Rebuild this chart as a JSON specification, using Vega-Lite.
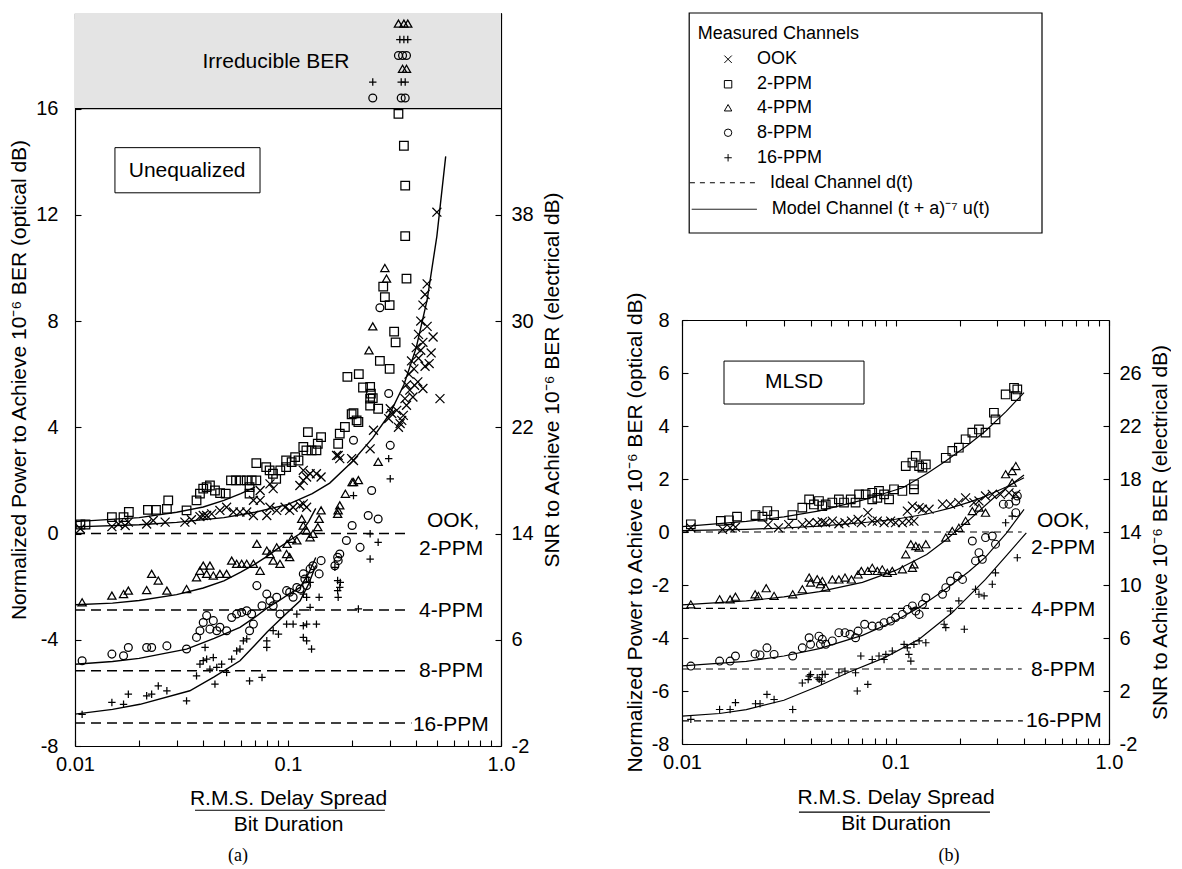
{
"$schema":"https://vega.github.io/schema/vega-lite/v6.json",
"padding":{"left":8,"top":12,"right":0,"bottom":0},
"config":{"view":{"stroke":null},"font":"Liberation Sans",
"axis":{"domainColor":"black","tickColor":"black","labelColor":"black","titleColor":"black","grid":false,"labelFontSize":20,"titleFontSize":21,"titleFontWeight":"normal","tickSize":-6,"domainWidth":1.2,"tickWidth":1.1,"zindex":1,"labelFont":"Liberation Sans","titleFont":"Liberation Sans"},
"text":{"font":"Liberation Sans","color":"black"}},
"datasets":{
"aIdeal":[{"x":0.01,"x2":0.37,"y":0},{"x":0.01,"x2":0.37,"y":-2.88},{"x":0.01,"x2":0.37,"y":-5.17},{"x":0.01,"x2":0.38,"y":-7.13}],
"bIdeal":[{"x":0.01,"x2":0.39,"y":0},{"x":0.01,"x2":0.39,"y":-2.88},{"x":0.01,"x2":0.39,"y":-5.17},{"x":0.01,"x2":0.395,"y":-7.13}],
"aLab":[{"t":"OOK,","x":0.449,"y":0.49},{"t":"2-PPM","x":0.412,"y":-0.57},{"t":"4-PPM","x":0.412,"y":-2.9},{"t":"8-PPM","x":0.412,"y":-5.17},{"t":"16-PPM","x":0.386,"y":-7.2}],
"bLab":[{"t":"OOK,","x":0.46,"y":0.42},{"t":"2-PPM","x":0.431,"y":-0.6},{"t":"4-PPM","x":0.431,"y":-2.94},{"t":"8-PPM","x":0.431,"y":-5.2},{"t":"16-PPM","x":0.408,"y":-7.15}],
"aCurve":[
{"s":"OOK","x":0.01,"y":0.25},{"s":"OOK","x":0.02,"y":0.33},{"s":"OOK","x":0.03,"y":0.42},{"s":"OOK","x":0.05,"y":0.6},{"s":"OOK","x":0.07,"y":0.8},{"s":"OOK","x":0.1,"y":1.1},{"s":"OOK","x":0.13,"y":1.5},{"s":"OOK","x":0.157,"y":1.9},{"s":"OOK","x":0.2,"y":2.7},{"s":"OOK","x":0.25,"y":3.6},{"s":"OOK","x":0.3,"y":4.5},{"s":"OOK","x":0.35,"y":5.6},{"s":"OOK","x":0.4,"y":7.0},{"s":"OOK","x":0.45,"y":8.8},{"s":"OOK","x":0.5,"y":11.2},{"s":"OOK","x":0.55,"y":14.2},
{"s":"2-PPM","x":0.01,"y":0.45},{"s":"2-PPM","x":0.02,"y":0.6},{"s":"2-PPM","x":0.03,"y":0.8},{"s":"2-PPM","x":0.04,"y":1.0},{"s":"2-PPM","x":0.05,"y":1.25},{"s":"2-PPM","x":0.06,"y":1.5},{"s":"2-PPM","x":0.07,"y":1.75},
{"s":"4-PPM","x":0.01,"y":-2.68},{"s":"4-PPM","x":0.015,"y":-2.62},{"s":"4-PPM","x":0.02,"y":-2.52},{"s":"4-PPM","x":0.03,"y":-2.3},{"s":"4-PPM","x":0.04,"y":-2.05},{"s":"4-PPM","x":0.05,"y":-1.78},{"s":"4-PPM","x":0.06,"y":-1.45},{"s":"4-PPM","x":0.07,"y":-1.15},{"s":"4-PPM","x":0.08,"y":-0.85},{"s":"4-PPM","x":0.09,"y":-0.55},{"s":"4-PPM","x":0.1,"y":-0.3},{"s":"4-PPM","x":0.114,"y":0.0},{"s":"4-PPM","x":0.125,"y":0.45},{"s":"4-PPM","x":0.135,"y":0.95},
{"s":"8-PPM","x":0.01,"y":-4.92},{"s":"8-PPM","x":0.015,"y":-4.82},{"s":"8-PPM","x":0.02,"y":-4.7},{"s":"8-PPM","x":0.0334,"y":-4.35},{"s":"8-PPM","x":0.045,"y":-3.95},{"s":"8-PPM","x":0.0595,"y":-3.53},{"s":"8-PPM","x":0.07,"y":-3.15},{"s":"8-PPM","x":0.08,"y":-2.8},{"s":"8-PPM","x":0.09,"y":-2.55},{"s":"8-PPM","x":0.1,"y":-2.3},{"s":"8-PPM","x":0.114,"y":-2.03},{"s":"8-PPM","x":0.125,"y":-1.5},{"s":"8-PPM","x":0.135,"y":-0.9},
{"s":"16-PPM","x":0.01,"y":-6.8},{"s":"16-PPM","x":0.015,"y":-6.62},{"s":"16-PPM","x":0.0202,"y":-6.43},{"s":"16-PPM","x":0.0346,"y":-5.92},{"s":"16-PPM","x":0.045,"y":-5.4},{"s":"16-PPM","x":0.0595,"y":-4.79},{"s":"16-PPM","x":0.07,"y":-4.2},{"s":"16-PPM","x":0.08,"y":-3.7},{"s":"16-PPM","x":0.09,"y":-3.3},{"s":"16-PPM","x":0.1,"y":-2.95},{"s":"16-PPM","x":0.114,"y":-2.53},{"s":"16-PPM","x":0.125,"y":-1.9},{"s":"16-PPM","x":0.135,"y":-1.2}],
"bCurve":[
{"s":"2-PPM","x":0.01,"y":0.2},{"s":"2-PPM","x":0.02,"y":0.4},{"s":"2-PPM","x":0.03,"y":0.57},{"s":"2-PPM","x":0.044,"y":0.8},{"s":"2-PPM","x":0.07,"y":1.2},{"s":"2-PPM","x":0.108,"y":1.67},{"s":"2-PPM","x":0.14,"y":2.2},{"s":"2-PPM","x":0.172,"y":2.68},{"s":"2-PPM","x":0.22,"y":3.3},{"s":"2-PPM","x":0.264,"y":3.81},{"s":"2-PPM","x":0.33,"y":4.55},{"s":"2-PPM","x":0.4,"y":5.26},
{"s":"OOK","x":0.01,"y":0.05},{"s":"OOK","x":0.02,"y":0.1},{"s":"OOK","x":0.03,"y":0.15},{"s":"OOK","x":0.044,"y":0.22},{"s":"OOK","x":0.07,"y":0.35},{"s":"OOK","x":0.1,"y":0.48},{"s":"OOK","x":0.14,"y":0.68},{"s":"OOK","x":0.18,"y":0.9},{"s":"OOK","x":0.22,"y":1.12},{"s":"OOK","x":0.264,"y":1.35},{"s":"OOK","x":0.33,"y":1.7},{"s":"OOK","x":0.4,"y":2.05},
{"s":"4-PPM","x":0.01,"y":-2.75},{"s":"4-PPM","x":0.02,"y":-2.6},{"s":"4-PPM","x":0.03,"y":-2.45},{"s":"4-PPM","x":0.044,"y":-2.25},{"s":"4-PPM","x":0.07,"y":-1.9},{"s":"4-PPM","x":0.1,"y":-1.45},{"s":"4-PPM","x":0.14,"y":-0.85},{"s":"4-PPM","x":0.172,"y":-0.3},{"s":"4-PPM","x":0.221,"y":0.45},{"s":"4-PPM","x":0.294,"y":1.35},{"s":"4-PPM","x":0.4,"y":2.15},
{"s":"8-PPM","x":0.01,"y":-5.05},{"s":"8-PPM","x":0.02,"y":-4.88},{"s":"8-PPM","x":0.03,"y":-4.68},{"s":"8-PPM","x":0.044,"y":-4.4},{"s":"8-PPM","x":0.07,"y":-3.9},{"s":"8-PPM","x":0.1,"y":-3.35},{"s":"8-PPM","x":0.129,"y":-2.85},{"s":"8-PPM","x":0.172,"y":-2.15},{"s":"8-PPM","x":0.22,"y":-1.5},{"s":"8-PPM","x":0.264,"y":-0.95},{"s":"8-PPM","x":0.33,"y":-0.05},{"s":"8-PPM","x":0.4,"y":0.85},
{"s":"16-PPM","x":0.01,"y":-6.95},{"s":"16-PPM","x":0.015,"y":-6.85},{"s":"16-PPM","x":0.02,"y":-6.7},{"s":"16-PPM","x":0.03,"y":-6.35},{"s":"16-PPM","x":0.044,"y":-5.8},{"s":"16-PPM","x":0.06,"y":-5.3},{"s":"16-PPM","x":0.089,"y":-4.74},{"s":"16-PPM","x":0.129,"y":-4.05},{"s":"16-PPM","x":0.184,"y":-3.05},{"s":"16-PPM","x":0.264,"y":-1.79},{"s":"16-PPM","x":0.33,"y":-0.9},{"s":"16-PPM","x":0.41,"y":-0.03}],
"aPts":[
{"s":"OOK","x":0.0106,"y":0.18},{"s":"OOK","x":0.0149,"y":0.26},{"s":"OOK","x":0.016,"y":0.36},{"s":"OOK","x":0.0172,"y":0.3},{"s":"OOK","x":0.0178,"y":0.43},{"s":"OOK","x":0.0217,"y":0.36},{"s":"OOK","x":0.0233,"y":0.49},{"s":"OOK","x":0.0265,"y":0.43},{"s":"OOK","x":0.0328,"y":0.43},{"s":"OOK","x":0.0352,"y":0.52},{"s":"OOK","x":0.0386,"y":0.64},{"s":"OOK","x":0.04,"y":0.68},{"s":"OOK","x":0.0415,"y":0.68},{"s":"OOK","x":0.0438,"y":0.74},{"s":"OOK","x":0.0479,"y":0.87},{"s":"OOK","x":0.0515,"y":0.99},{"s":"OOK","x":0.0554,"y":0.81},{"s":"OOK","x":0.0595,"y":0.81},{"s":"OOK","x":0.064,"y":0.81},{"s":"OOK","x":0.0688,"y":0.68},{"s":"OOK","x":0.074,"y":1.25},{"s":"OOK","x":0.0795,"y":0.68},{"s":"OOK","x":0.0823,"y":0.99},{"s":"OOK","x":0.0885,"y":0.87},{"s":"OOK","x":0.0969,"y":0.99},{"s":"OOK","x":0.1018,"y":0.87},{"s":"OOK","x":0.1057,"y":0.99},{"s":"OOK","x":0.1137,"y":1.06},{"s":"OOK","x":0.118,"y":1.12},{"s":"OOK","x":0.1223,"y":0.99},{"s":"OOK","x":0.0688,"y":1.25},{"s":"OOK","x":0.074,"y":1.62},{"s":"OOK","x":0.0823,"y":1.87},{"s":"OOK","x":0.0852,"y":1.69},{"s":"OOK","x":0.1137,"y":1.81},{"s":"OOK","x":0.118,"y":2.0},{"s":"OOK","x":0.1223,"y":2.13},{"s":"OOK","x":0.118,"y":2.38},{"s":"OOK","x":0.127,"y":2.25},{"s":"OOK","x":0.136,"y":2.25},{"s":"OOK","x":0.143,"y":2.13},{"s":"OOK","x":0.169,"y":2.94},{"s":"OOK","x":0.175,"y":2.82},{"s":"OOK","x":0.199,"y":2.82},{"s":"OOK","x":0.172,"y":2.94},{"s":"OOK","x":0.203,"y":2.75},{"s":"OOK","x":0.243,"y":3.19},{"s":"OOK","x":0.252,"y":3.89},{"s":"OOK","x":0.297,"y":4.33},{"s":"OOK","x":0.302,"y":4.7},{"s":"OOK","x":0.307,"y":4.52},{"s":"OOK","x":0.324,"y":4.64},{"s":"OOK","x":0.33,"y":4.0},{"s":"OOK","x":0.342,"y":4.26},{"s":"OOK","x":0.354,"y":5.08},{"s":"OOK","x":0.36,"y":4.83},{"s":"OOK","x":0.373,"y":5.4},{"s":"OOK","x":0.386,"y":5.14},{"s":"OOK","x":0.393,"y":5.58},{"s":"OOK","x":0.407,"y":5.71},{"s":"OOK","x":0.43,"y":5.46},{"s":"OOK","x":0.336,"y":4.14},{"s":"OOK","x":0.348,"y":4.45},{"s":"OOK","x":0.517,"y":5.08},{"s":"OOK","x":0.37,"y":6.0},{"s":"OOK","x":0.38,"y":6.5},{"s":"OOK","x":0.4,"y":7.0},{"s":"OOK","x":0.41,"y":7.5},{"s":"OOK","x":0.42,"y":8.0},{"s":"OOK","x":0.43,"y":8.6},{"s":"OOK","x":0.44,"y":9.0},{"s":"OOK","x":0.45,"y":9.4},{"s":"OOK","x":0.43,"y":7.2},{"s":"OOK","x":0.45,"y":7.8},{"s":"OOK","x":0.47,"y":6.8},{"s":"OOK","x":0.48,"y":7.4},{"s":"OOK","x":0.44,"y":6.3},{"s":"OOK","x":0.39,"y":6.2},{"s":"OOK","x":0.41,"y":6.6},{"s":"OOK","x":0.46,"y":6.4},{"s":"OOK","x":0.5,"y":12.1},{"s":"OOK","x":0.42,"y":6.9},{"s":"OOK","x":0.36,"y":5.6},
{"s":"2-PPM","x":0.0106,"y":0.34},{"s":"2-PPM","x":0.0112,"y":0.34},{"s":"2-PPM","x":0.0149,"y":0.62},{"s":"2-PPM","x":0.0169,"y":0.62},{"s":"2-PPM","x":0.0179,"y":0.81},{"s":"2-PPM","x":0.022,"y":0.89},{"s":"2-PPM","x":0.024,"y":0.89},{"s":"2-PPM","x":0.027,"y":0.93},{"s":"2-PPM","x":0.0274,"y":1.25},{"s":"2-PPM","x":0.0334,"y":0.87},{"s":"2-PPM","x":0.0372,"y":1.25},{"s":"2-PPM","x":0.0386,"y":1.5},{"s":"2-PPM","x":0.04,"y":1.69},{"s":"2-PPM","x":0.0415,"y":1.75},{"s":"2-PPM","x":0.043,"y":1.81},{"s":"2-PPM","x":0.0454,"y":1.62},{"s":"2-PPM","x":0.048,"y":1.52},{"s":"2-PPM","x":0.051,"y":1.5},{"s":"2-PPM","x":0.054,"y":2.0},{"s":"2-PPM","x":0.057,"y":2.0},{"s":"2-PPM","x":0.06,"y":2.0},{"s":"2-PPM","x":0.064,"y":2.0},{"s":"2-PPM","x":0.0675,"y":2.0},{"s":"2-PPM","x":0.071,"y":2.0},{"s":"2-PPM","x":0.066,"y":1.75},{"s":"2-PPM","x":0.066,"y":1.5},{"s":"2-PPM","x":0.071,"y":2.65},{"s":"2-PPM","x":0.079,"y":2.5},{"s":"2-PPM","x":0.082,"y":2.38},{"s":"2-PPM","x":0.085,"y":2.25},{"s":"2-PPM","x":0.088,"y":2.06},{"s":"2-PPM","x":0.092,"y":2.38},{"s":"2-PPM","x":0.098,"y":2.5},{"s":"2-PPM","x":0.098,"y":2.75},{"s":"2-PPM","x":0.104,"y":2.69},{"s":"2-PPM","x":0.108,"y":2.88},{"s":"2-PPM","x":0.112,"y":2.75},{"s":"2-PPM","x":0.118,"y":3.26},{"s":"2-PPM","x":0.122,"y":3.13},{"s":"2-PPM","x":0.129,"y":3.13},{"s":"2-PPM","x":0.136,"y":3.13},{"s":"2-PPM","x":0.138,"y":3.38},{"s":"2-PPM","x":0.143,"y":3.63},{"s":"2-PPM","x":0.124,"y":3.82},{"s":"2-PPM","x":0.172,"y":3.38},{"s":"2-PPM","x":0.175,"y":3.76},{"s":"2-PPM","x":0.185,"y":4.01},{"s":"2-PPM","x":0.199,"y":4.49},{"s":"2-PPM","x":0.21,"y":4.26},{"s":"2-PPM","x":0.243,"y":5.52},{"s":"2-PPM","x":0.245,"y":5.27},{"s":"2-PPM","x":0.243,"y":5.08},{"s":"2-PPM","x":0.243,"y":4.82},{"s":"2-PPM","x":0.265,"y":4.7},{"s":"2-PPM","x":0.203,"y":4.53},{"s":"2-PPM","x":0.214,"y":4.2},{"s":"2-PPM","x":0.19,"y":5.9},{"s":"2-PPM","x":0.215,"y":6.0},{"s":"2-PPM","x":0.225,"y":5.5},{"s":"2-PPM","x":0.25,"y":5.1},{"s":"2-PPM","x":0.28,"y":9.3},{"s":"2-PPM","x":0.285,"y":8.9},{"s":"2-PPM","x":0.3,"y":8.6},{"s":"2-PPM","x":0.315,"y":7.6},{"s":"2-PPM","x":0.32,"y":7.2},{"s":"2-PPM","x":0.33,"y":15.8},{"s":"2-PPM","x":0.35,"y":14.6},{"s":"2-PPM","x":0.355,"y":13.1},{"s":"2-PPM","x":0.355,"y":11.2},{"s":"2-PPM","x":0.36,"y":9.6},{"s":"2-PPM","x":0.27,"y":6.5},{"s":"2-PPM","x":0.3,"y":6.2},
{"s":"4-PPM","x":0.0108,"y":-2.59},{"s":"4-PPM","x":0.0149,"y":-2.34},{"s":"4-PPM","x":0.0169,"y":-2.28},{"s":"4-PPM","x":0.0178,"y":-2.15},{"s":"4-PPM","x":0.0217,"y":-2.13},{"s":"4-PPM","x":0.0229,"y":-1.52},{"s":"4-PPM","x":0.0246,"y":-1.77},{"s":"4-PPM","x":0.027,"y":-2.15},{"s":"4-PPM","x":0.0334,"y":-2.09},{"s":"4-PPM","x":0.0372,"y":-1.65},{"s":"4-PPM","x":0.0386,"y":-1.4},{"s":"4-PPM","x":0.04,"y":-1.21},{"s":"4-PPM","x":0.043,"y":-1.21},{"s":"4-PPM","x":0.0415,"y":-1.52},{"s":"4-PPM","x":0.0446,"y":-1.58},{"s":"4-PPM","x":0.0479,"y":-1.52},{"s":"4-PPM","x":0.0515,"y":-1.52},{"s":"4-PPM","x":0.0544,"y":-1.02},{"s":"4-PPM","x":0.0574,"y":-1.14},{"s":"4-PPM","x":0.0606,"y":-1.14},{"s":"4-PPM","x":0.064,"y":-1.14},{"s":"4-PPM","x":0.0688,"y":-1.14},{"s":"4-PPM","x":0.0714,"y":-0.39},{"s":"4-PPM","x":0.074,"y":-1.4},{"s":"4-PPM","x":0.0795,"y":-0.64},{"s":"4-PPM","x":0.0823,"y":-0.77},{"s":"4-PPM","x":0.0852,"y":-1.02},{"s":"4-PPM","x":0.0885,"y":-0.52},{"s":"4-PPM","x":0.0917,"y":-1.14},{"s":"4-PPM","x":0.0985,"y":-0.77},{"s":"4-PPM","x":0.1018,"y":-0.89},{"s":"4-PPM","x":0.099,"y":-0.39},{"s":"4-PPM","x":0.104,"y":-0.2},{"s":"4-PPM","x":0.11,"y":-0.26},{"s":"4-PPM","x":0.116,"y":0.55},{"s":"4-PPM","x":0.118,"y":0.3},{"s":"4-PPM","x":0.1223,"y":0.11},{"s":"4-PPM","x":0.127,"y":-0.14},{"s":"4-PPM","x":0.131,"y":-0.01},{"s":"4-PPM","x":0.143,"y":0.87},{"s":"4-PPM","x":0.14,"y":0.55},{"s":"4-PPM","x":0.138,"y":0.24},{"s":"4-PPM","x":0.172,"y":0.87},{"s":"4-PPM","x":0.175,"y":1.06},{"s":"4-PPM","x":0.2,"y":1.94},{"s":"4-PPM","x":0.171,"y":0.74},{"s":"4-PPM","x":0.186,"y":1.5},{"s":"4-PPM","x":0.203,"y":1.94},{"s":"4-PPM","x":0.214,"y":2.01},{"s":"4-PPM","x":0.265,"y":2.7},{"s":"4-PPM","x":0.285,"y":10.0},{"s":"4-PPM","x":0.29,"y":9.6},{"s":"4-PPM","x":0.25,"y":7.8},{"s":"4-PPM","x":0.24,"y":6.9},{"s":"4-PPM","x":0.33,"y":19.2},{"s":"4-PPM","x":0.35,"y":19.2},{"s":"4-PPM","x":0.365,"y":19.2},{"s":"4-PPM","x":0.345,"y":17.5},{"s":"4-PPM","x":0.36,"y":17.5},
{"s":"8-PPM","x":0.0108,"y":-4.79},{"s":"8-PPM","x":0.0149,"y":-4.54},{"s":"8-PPM","x":0.0169,"y":-4.6},{"s":"8-PPM","x":0.0178,"y":-4.29},{"s":"8-PPM","x":0.0217,"y":-4.29},{"s":"8-PPM","x":0.0229,"y":-4.29},{"s":"8-PPM","x":0.027,"y":-4.23},{"s":"8-PPM","x":0.0334,"y":-4.35},{"s":"8-PPM","x":0.0372,"y":-3.91},{"s":"8-PPM","x":0.0386,"y":-3.66},{"s":"8-PPM","x":0.04,"y":-3.35},{"s":"8-PPM","x":0.0415,"y":-3.09},{"s":"8-PPM","x":0.0446,"y":-3.28},{"s":"8-PPM","x":0.043,"y":-3.6},{"s":"8-PPM","x":0.0463,"y":-3.66},{"s":"8-PPM","x":0.0479,"y":-3.53},{"s":"8-PPM","x":0.0515,"y":-3.66},{"s":"8-PPM","x":0.0544,"y":-3.16},{"s":"8-PPM","x":0.0574,"y":-3.03},{"s":"8-PPM","x":0.0606,"y":-2.97},{"s":"8-PPM","x":0.064,"y":-2.91},{"s":"8-PPM","x":0.0675,"y":-3.03},{"s":"8-PPM","x":0.0714,"y":-1.96},{"s":"8-PPM","x":0.0755,"y":-2.72},{"s":"8-PPM","x":0.066,"y":-3.66},{"s":"8-PPM","x":0.0688,"y":-3.41},{"s":"8-PPM","x":0.0795,"y":-2.28},{"s":"8-PPM","x":0.0823,"y":-2.53},{"s":"8-PPM","x":0.0852,"y":-2.72},{"s":"8-PPM","x":0.0885,"y":-2.4},{"s":"8-PPM","x":0.0917,"y":-3.03},{"s":"8-PPM","x":0.0985,"y":-2.15},{"s":"8-PPM","x":0.1018,"y":-2.21},{"s":"8-PPM","x":0.1057,"y":-2.4},{"s":"8-PPM","x":0.11,"y":-2.03},{"s":"8-PPM","x":0.114,"y":-2.09},{"s":"8-PPM","x":0.118,"y":-1.52},{"s":"8-PPM","x":0.12,"y":-1.71},{"s":"8-PPM","x":0.1223,"y":-1.96},{"s":"8-PPM","x":0.127,"y":-1.33},{"s":"8-PPM","x":0.131,"y":-1.21},{"s":"8-PPM","x":0.143,"y":-1.02},{"s":"8-PPM","x":0.14,"y":-1.52},{"s":"8-PPM","x":0.175,"y":-0.77},{"s":"8-PPM","x":0.172,"y":-1.02},{"s":"8-PPM","x":0.188,"y":-0.26},{"s":"8-PPM","x":0.2,"y":0.3},{"s":"8-PPM","x":0.218,"y":-0.52},{"s":"8-PPM","x":0.166,"y":-1.21},{"s":"8-PPM","x":0.171,"y":-0.89},{"s":"8-PPM","x":0.238,"y":0.68},{"s":"8-PPM","x":0.265,"y":0.55},{"s":"8-PPM","x":0.203,"y":3.51},{"s":"8-PPM","x":0.302,"y":3.32},{"s":"8-PPM","x":0.297,"y":5.27},{"s":"8-PPM","x":0.247,"y":1.62},{"s":"8-PPM","x":0.27,"y":8.5},{"s":"8-PPM","x":0.25,"y":16.4},{"s":"8-PPM","x":0.34,"y":16.4},{"s":"8-PPM","x":0.355,"y":16.4},{"s":"8-PPM","x":0.33,"y":18.0},{"s":"8-PPM","x":0.345,"y":18.0},{"s":"8-PPM","x":0.36,"y":18.0},
{"s":"16-PPM","x":0.0108,"y":-6.81},{"s":"16-PPM","x":0.0149,"y":-6.36},{"s":"16-PPM","x":0.0169,"y":-6.43},{"s":"16-PPM","x":0.0178,"y":-6.05},{"s":"16-PPM","x":0.0217,"y":-6.11},{"s":"16-PPM","x":0.0229,"y":-6.05},{"s":"16-PPM","x":0.0246,"y":-5.74},{"s":"16-PPM","x":0.027,"y":-5.92},{"s":"16-PPM","x":0.0334,"y":-6.3},{"s":"16-PPM","x":0.0372,"y":-5.36},{"s":"16-PPM","x":0.0386,"y":-4.92},{"s":"16-PPM","x":0.04,"y":-4.79},{"s":"16-PPM","x":0.0415,"y":-4.73},{"s":"16-PPM","x":0.0408,"y":-4.29},{"s":"16-PPM","x":0.043,"y":-5.11},{"s":"16-PPM","x":0.0446,"y":-4.67},{"s":"16-PPM","x":0.0454,"y":-5.67},{"s":"16-PPM","x":0.0463,"y":-5.04},{"s":"16-PPM","x":0.0488,"y":-4.92},{"s":"16-PPM","x":0.0515,"y":-5.23},{"s":"16-PPM","x":0.0544,"y":-4.73},{"s":"16-PPM","x":0.0574,"y":-4.42},{"s":"16-PPM","x":0.0595,"y":-4.35},{"s":"16-PPM","x":0.0617,"y":-4.04},{"s":"16-PPM","x":0.064,"y":-3.97},{"s":"16-PPM","x":0.066,"y":-5.55},{"s":"16-PPM","x":0.0755,"y":-5.42},{"s":"16-PPM","x":0.0795,"y":-4.04},{"s":"16-PPM","x":0.0795,"y":-4.29},{"s":"16-PPM","x":0.0852,"y":-3.66},{"s":"16-PPM","x":0.0902,"y":-3.79},{"s":"16-PPM","x":0.0985,"y":-3.41},{"s":"16-PPM","x":0.1057,"y":-3.41},{"s":"16-PPM","x":0.11,"y":-3.03},{"s":"16-PPM","x":0.118,"y":-3.47},{"s":"16-PPM","x":0.1223,"y":-3.41},{"s":"16-PPM","x":0.118,"y":-3.91},{"s":"16-PPM","x":0.1223,"y":-4.04},{"s":"16-PPM","x":0.129,"y":-4.35},{"s":"16-PPM","x":0.127,"y":-2.78},{"s":"16-PPM","x":0.118,"y":-2.28},{"s":"16-PPM","x":0.1223,"y":-1.65},{"s":"16-PPM","x":0.127,"y":-1.84},{"s":"16-PPM","x":0.1223,"y":-2.4},{"s":"16-PPM","x":0.14,"y":-2.4},{"s":"16-PPM","x":0.136,"y":-3.41},{"s":"16-PPM","x":0.172,"y":-2.4},{"s":"16-PPM","x":0.175,"y":-2.03},{"s":"16-PPM","x":0.176,"y":-1.84},{"s":"16-PPM","x":0.166,"y":-1.27},{"s":"16-PPM","x":0.171,"y":-1.77},{"s":"16-PPM","x":0.171,"y":-2.15},{"s":"16-PPM","x":0.243,"y":-0.01},{"s":"16-PPM","x":0.265,"y":-0.33},{"s":"16-PPM","x":0.243,"y":-0.96},{"s":"16-PPM","x":0.302,"y":2.06},{"s":"16-PPM","x":0.297,"y":2.82},{"s":"16-PPM","x":0.203,"y":1.43},{"s":"16-PPM","x":0.214,"y":-2.84},{"s":"16-PPM","x":0.25,"y":17.0},{"s":"16-PPM","x":0.34,"y":17.0},{"s":"16-PPM","x":0.355,"y":17.0},{"s":"16-PPM","x":0.335,"y":18.6},{"s":"16-PPM","x":0.35,"y":18.6},{"s":"16-PPM","x":0.365,"y":18.6}],
"bPts":[
{"s":"OOK","x":0.011,"y":0.16},{"s":"OOK","x":0.0155,"y":0.1},{"s":"OOK","x":0.0168,"y":0.16},{"s":"OOK","x":0.0178,"y":0.18},{"s":"OOK","x":0.0253,"y":0.28},{"s":"OOK","x":0.0283,"y":0.16},{"s":"OOK","x":0.0316,"y":0.28},{"s":"OOK","x":0.0366,"y":0.28},{"s":"OOK","x":0.0394,"y":0.35},{"s":"OOK","x":0.043,"y":0.35},{"s":"OOK","x":0.0454,"y":0.38},{"s":"OOK","x":0.047,"y":0.35},{"s":"OOK","x":0.0506,"y":0.41},{"s":"OOK","x":0.0543,"y":0.31},{"s":"OOK","x":0.058,"y":0.35},{"s":"OOK","x":0.0622,"y":0.41},{"s":"OOK","x":0.0668,"y":0.48},{"s":"OOK","x":0.0692,"y":0.35},{"s":"OOK","x":0.0742,"y":0.73},{"s":"OOK","x":0.0778,"y":0.41},{"s":"OOK","x":0.0822,"y":0.41},{"s":"OOK","x":0.0884,"y":0.35},{"s":"OOK","x":0.0949,"y":0.41},{"s":"OOK","x":0.1,"y":0.35},{"s":"OOK","x":0.1077,"y":0.35},{"s":"OOK","x":0.1155,"y":0.41},{"s":"OOK","x":0.122,"y":0.41},{"s":"OOK","x":0.1136,"y":0.79},{"s":"OOK","x":0.12,"y":0.98},{"s":"OOK","x":0.129,"y":0.92},{"s":"OOK","x":0.1337,"y":0.86},{"s":"OOK","x":0.1436,"y":0.86},{"s":"OOK","x":0.166,"y":1.05},{"s":"OOK","x":0.181,"y":1.05},{"s":"OOK","x":0.198,"y":1.11},{"s":"OOK","x":0.213,"y":1.29},{"s":"OOK","x":0.233,"y":1.11},{"s":"OOK","x":0.246,"y":1.17},{"s":"OOK","x":0.264,"y":1.36},{"s":"OOK","x":0.284,"y":1.42},{"s":"OOK","x":0.31,"y":1.42},{"s":"OOK","x":0.34,"y":1.48},{"s":"OOK","x":0.366,"y":1.42},
{"s":"2-PPM","x":0.011,"y":0.29},{"s":"2-PPM","x":0.0152,"y":0.42},{"s":"2-PPM","x":0.0166,"y":0.44},{"s":"2-PPM","x":0.0181,"y":0.58},{"s":"2-PPM","x":0.0221,"y":0.64},{"s":"2-PPM","x":0.0238,"y":0.58},{"s":"2-PPM","x":0.0251,"y":0.79},{"s":"2-PPM","x":0.027,"y":0.64},{"s":"2-PPM","x":0.0329,"y":0.64},{"s":"2-PPM","x":0.0366,"y":0.92},{"s":"2-PPM","x":0.0394,"y":1.23},{"s":"2-PPM","x":0.0415,"y":1.04},{"s":"2-PPM","x":0.0438,"y":1.17},{"s":"2-PPM","x":0.0454,"y":0.98},{"s":"2-PPM","x":0.0471,"y":1.04},{"s":"2-PPM","x":0.0506,"y":1.11},{"s":"2-PPM","x":0.0543,"y":1.23},{"s":"2-PPM","x":0.0574,"y":1.11},{"s":"2-PPM","x":0.0617,"y":1.23},{"s":"2-PPM","x":0.065,"y":1.11},{"s":"2-PPM","x":0.0675,"y":1.42},{"s":"2-PPM","x":0.0725,"y":1.42},{"s":"2-PPM","x":0.0778,"y":1.48},{"s":"2-PPM","x":0.0837,"y":1.55},{"s":"2-PPM","x":0.0778,"y":1.23},{"s":"2-PPM","x":0.0822,"y":1.29},{"s":"2-PPM","x":0.0884,"y":1.42},{"s":"2-PPM","x":0.0933,"y":1.23},{"s":"2-PPM","x":0.0984,"y":1.61},{"s":"2-PPM","x":0.1077,"y":1.55},{"s":"2-PPM","x":0.122,"y":1.61},{"s":"2-PPM","x":0.122,"y":1.8},{"s":"2-PPM","x":0.1117,"y":2.49},{"s":"2-PPM","x":0.12,"y":2.62},{"s":"2-PPM","x":0.129,"y":2.49},{"s":"2-PPM","x":0.1337,"y":2.43},{"s":"2-PPM","x":0.1387,"y":2.55},{"s":"2-PPM","x":0.1244,"y":2.87},{"s":"2-PPM","x":0.172,"y":2.8},{"s":"2-PPM","x":0.1845,"y":3.06},{"s":"2-PPM","x":0.198,"y":3.18},{"s":"2-PPM","x":0.213,"y":3.5},{"s":"2-PPM","x":0.229,"y":3.75},{"s":"2-PPM","x":0.246,"y":3.87},{"s":"2-PPM","x":0.264,"y":3.75},{"s":"2-PPM","x":0.289,"y":4.5},{"s":"2-PPM","x":0.294,"y":4.25},{"s":"2-PPM","x":0.328,"y":5.19},{"s":"2-PPM","x":0.359,"y":5.44},{"s":"2-PPM","x":0.372,"y":5.38},{"s":"2-PPM","x":0.366,"y":5.13},
{"s":"4-PPM","x":0.011,"y":-2.73},{"s":"4-PPM","x":0.015,"y":-2.54},{"s":"4-PPM","x":0.0168,"y":-2.54},{"s":"4-PPM","x":0.0178,"y":-2.44},{"s":"4-PPM","x":0.022,"y":-2.35},{"s":"4-PPM","x":0.0228,"y":-2.41},{"s":"4-PPM","x":0.0248,"y":-2.12},{"s":"4-PPM","x":0.027,"y":-2.41},{"s":"4-PPM","x":0.033,"y":-2.35},{"s":"4-PPM","x":0.0366,"y":-2.16},{"s":"4-PPM","x":0.0394,"y":-1.72},{"s":"4-PPM","x":0.04,"y":-1.91},{"s":"4-PPM","x":0.043,"y":-1.78},{"s":"4-PPM","x":0.0445,"y":-1.97},{"s":"4-PPM","x":0.0454,"y":-1.85},{"s":"4-PPM","x":0.0471,"y":-2.1},{"s":"4-PPM","x":0.0506,"y":-1.79},{"s":"4-PPM","x":0.0543,"y":-1.79},{"s":"4-PPM","x":0.058,"y":-1.72},{"s":"4-PPM","x":0.0622,"y":-1.79},{"s":"4-PPM","x":0.0668,"y":-1.6},{"s":"4-PPM","x":0.0692,"y":-1.47},{"s":"4-PPM","x":0.0742,"y":-1.47},{"s":"4-PPM","x":0.0778,"y":-1.35},{"s":"4-PPM","x":0.0822,"y":-1.47},{"s":"4-PPM","x":0.0867,"y":-1.41},{"s":"4-PPM","x":0.0915,"y":-1.54},{"s":"4-PPM","x":0.0966,"y":-1.47},{"s":"4-PPM","x":0.1077,"y":-1.41},{"s":"4-PPM","x":0.12,"y":-1.35},{"s":"4-PPM","x":0.122,"y":-1.22},{"s":"4-PPM","x":0.1117,"y":-0.84},{"s":"4-PPM","x":0.118,"y":-0.46},{"s":"4-PPM","x":0.1244,"y":-0.53},{"s":"4-PPM","x":0.129,"y":-0.59},{"s":"4-PPM","x":0.1387,"y":-0.46},{"s":"4-PPM","x":0.172,"y":-0.21},{"s":"4-PPM","x":0.1845,"y":0.04},{"s":"4-PPM","x":0.198,"y":0.16},{"s":"4-PPM","x":0.213,"y":0.42},{"s":"4-PPM","x":0.229,"y":0.79},{"s":"4-PPM","x":0.246,"y":0.92},{"s":"4-PPM","x":0.264,"y":0.73},{"s":"4-PPM","x":0.328,"y":2.18},{"s":"4-PPM","x":0.352,"y":2.3},{"s":"4-PPM","x":0.366,"y":2.49},{"s":"4-PPM","x":0.352,"y":1.86},
{"s":"8-PPM","x":0.011,"y":-5.06},{"s":"8-PPM","x":0.015,"y":-4.87},{"s":"8-PPM","x":0.0168,"y":-4.87},{"s":"8-PPM","x":0.0178,"y":-4.68},{"s":"8-PPM","x":0.022,"y":-4.6},{"s":"8-PPM","x":0.0232,"y":-4.64},{"s":"8-PPM","x":0.025,"y":-4.37},{"s":"8-PPM","x":0.027,"y":-4.62},{"s":"8-PPM","x":0.033,"y":-4.68},{"s":"8-PPM","x":0.0366,"y":-4.37},{"s":"8-PPM","x":0.0394,"y":-3.99},{"s":"8-PPM","x":0.04,"y":-4.24},{"s":"8-PPM","x":0.0438,"y":-3.93},{"s":"8-PPM","x":0.0445,"y":-4.24},{"s":"8-PPM","x":0.0454,"y":-4.05},{"s":"8-PPM","x":0.0471,"y":-4.24},{"s":"8-PPM","x":0.0506,"y":-4.11},{"s":"8-PPM","x":0.0543,"y":-3.8},{"s":"8-PPM","x":0.058,"y":-3.8},{"s":"8-PPM","x":0.0612,"y":-3.86},{"s":"8-PPM","x":0.065,"y":-3.99},{"s":"8-PPM","x":0.0668,"y":-3.74},{"s":"8-PPM","x":0.0717,"y":-3.48},{"s":"8-PPM","x":0.0778,"y":-3.55},{"s":"8-PPM","x":0.0837,"y":-3.55},{"s":"8-PPM","x":0.0884,"y":-3.42},{"s":"8-PPM","x":0.0949,"y":-3.36},{"s":"8-PPM","x":0.1,"y":-3.23},{"s":"8-PPM","x":0.1077,"y":-3.11},{"s":"8-PPM","x":0.1136,"y":-2.92},{"s":"8-PPM","x":0.12,"y":-2.79},{"s":"8-PPM","x":0.1244,"y":-2.98},{"s":"8-PPM","x":0.129,"y":-3.11},{"s":"8-PPM","x":0.1337,"y":-2.73},{"s":"8-PPM","x":0.1387,"y":-2.48},{"s":"8-PPM","x":0.166,"y":-2.35},{"s":"8-PPM","x":0.172,"y":-2.1},{"s":"8-PPM","x":0.181,"y":-1.85},{"s":"8-PPM","x":0.195,"y":-1.66},{"s":"8-PPM","x":0.206,"y":-1.79},{"s":"8-PPM","x":0.229,"y":-0.34},{"s":"8-PPM","x":0.237,"y":-1.09},{"s":"8-PPM","x":0.246,"y":-0.78},{"s":"8-PPM","x":0.255,"y":-1.03},{"s":"8-PPM","x":0.264,"y":-0.21},{"s":"8-PPM","x":0.284,"y":-0.15},{"s":"8-PPM","x":0.294,"y":-0.46},{"s":"8-PPM","x":0.32,"y":1.05},{"s":"8-PPM","x":0.34,"y":1.05},{"s":"8-PPM","x":0.366,"y":1.17},{"s":"8-PPM","x":0.372,"y":1.36},{"s":"8-PPM","x":0.366,"y":0.73},
{"s":"16-PPM","x":0.011,"y":-7.07},{"s":"16-PPM","x":0.015,"y":-6.7},{"s":"16-PPM","x":0.0168,"y":-6.7},{"s":"16-PPM","x":0.0178,"y":-6.44},{"s":"16-PPM","x":0.0221,"y":-6.48},{"s":"16-PPM","x":0.0232,"y":-6.48},{"s":"16-PPM","x":0.025,"y":-6.13},{"s":"16-PPM","x":0.027,"y":-6.32},{"s":"16-PPM","x":0.033,"y":-6.7},{"s":"16-PPM","x":0.0366,"y":-5.7},{"s":"16-PPM","x":0.039,"y":-5.57},{"s":"16-PPM","x":0.0394,"y":-5.44},{"s":"16-PPM","x":0.04,"y":-5.38},{"s":"16-PPM","x":0.043,"y":-5.5},{"s":"16-PPM","x":0.045,"y":-5.63},{"s":"16-PPM","x":0.0454,"y":-5.38},{"s":"16-PPM","x":0.0439,"y":-5.56},{"s":"16-PPM","x":0.0468,"y":-5.37},{"s":"16-PPM","x":0.0543,"y":-5.31},{"s":"16-PPM","x":0.058,"y":-5.25},{"s":"16-PPM","x":0.065,"y":-5.31},{"s":"16-PPM","x":0.0662,"y":-6.0},{"s":"16-PPM","x":0.0742,"y":-5.75},{"s":"16-PPM","x":0.0688,"y":-4.68},{"s":"16-PPM","x":0.0778,"y":-4.81},{"s":"16-PPM","x":0.0837,"y":-4.68},{"s":"16-PPM","x":0.0884,"y":-4.81},{"s":"16-PPM","x":0.0901,"y":-4.62},{"s":"16-PPM","x":0.0966,"y":-4.49},{"s":"16-PPM","x":0.1097,"y":-4.24},{"s":"16-PPM","x":0.1136,"y":-4.37},{"s":"16-PPM","x":0.1155,"y":-4.62},{"s":"16-PPM","x":0.118,"y":-4.87},{"s":"16-PPM","x":0.122,"y":-4.24},{"s":"16-PPM","x":0.129,"y":-4.11},{"s":"16-PPM","x":0.1387,"y":-4.18},{"s":"16-PPM","x":0.169,"y":-3.48},{"s":"16-PPM","x":0.172,"y":-3.61},{"s":"16-PPM","x":0.181,"y":-2.98},{"s":"16-PPM","x":0.21,"y":-3.67},{"s":"16-PPM","x":0.198,"y":-2.6},{"s":"16-PPM","x":0.237,"y":-2.16},{"s":"16-PPM","x":0.246,"y":-2.35},{"s":"16-PPM","x":0.26,"y":-2.41},{"s":"16-PPM","x":0.284,"y":-1.97},{"s":"16-PPM","x":0.294,"y":-1.54},{"s":"16-PPM","x":0.328,"y":0.35},{"s":"16-PPM","x":0.372,"y":-0.97},{"s":"16-PPM","x":0.352,"y":0.6}],
"legSym":[{"t":"OOK","s":"OOK","x":0.128,"y":1.85},{"t":"2-PPM","s":"2-PPM","x":0.128,"y":2.85},{"t":"4-PPM","s":"4-PPM","x":0.128,"y":3.79},{"t":"8-PPM","s":"8-PPM","x":0.128,"y":4.79},{"t":"16-PPM","s":"16-PPM","x":0.128,"y":5.79}],
"legLine":[{"t":"Ideal Channel d(t)","k":"ideal","x":0.022,"x2":0.208,"y":6.79},{"t":"Model Channel (t + a)⁻⁷ u(t)","k":"model","x":0.027,"x2":0.208,"y":7.85}]
},
"hconcat":[
{
"width":426,"height":733,
"encoding":{"x":{"field":"x","type":"quantitative","scale":{"type":"log","domain":[0.01,1]},"axis":null},"y":{"field":"y","type":"quantitative","scale":{"domain":[-8,19.6]},"axis":null}},
"layer":[
{"data":{"values":[{"x":0.01,"x2":1,"y":16,"y2":19.6}]},"mark":{"type":"rect","fill":"#e4e4e4"},"encoding":{"x2":{"field":"x2"},"y2":{"field":"y2"}}},
{"data":{"values":[{"x":0.01,"x2":1,"y":16}]},"mark":{"type":"rule","stroke":"black","strokeWidth":1.3},"encoding":{"x2":{"field":"x2"}}},
{"data":{"name":"aIdeal"},"mark":{"type":"rule","stroke":"black","strokeWidth":1.5,"strokeDash":[10,6]},"encoding":{"x2":{"field":"x2"}}},
{"data":{"name":"aCurve"},"mark":{"type":"line","stroke":"black","strokeWidth":1.4,"clip":true},"encoding":{"detail":{"field":"s"}}},
{"data":{"name":"aPts"},"mark":{"type":"point","filled":false,"stroke":"black","strokeWidth":1.25,"opacity":1,"clip":true},
"encoding":{
"x":{"field":"x","type":"quantitative","scale":{"type":"log","domain":[0.01,1]},"axis":{"orient":"bottom","values":[0.01,0.02,0.03,0.04,0.05,0.06,0.07,0.08,0.09,0.1,0.2,0.3,0.4,0.5,0.6,0.7,0.8,0.9,1],"labelExpr":"datum.value == 0.01 ? '0.01' : datum.value == 0.1 ? '0.1' : datum.value == 1 ? '1.0' : ''","labelFlush":false,"labelOverlap":false,"labelPadding":14,"title":["R.M.S. Delay Spread","Bit Duration"],"titleLineHeight":26,"titlePadding":13}},
"y":{"field":"y","type":"quantitative","scale":{"domain":[-8,19.6]},"axis":{"orient":"left","values":[-8,-4,0,4,8,12,16],"labelExpr":"'' + datum.value","labelPadding":23,"title":"Normalized Power to Achieve 10⁻⁶ BER (optical dB)","titlePadding":6}},
"shape":{"field":"s","type":"nominal","scale":{"domain":["OOK","2-PPM","4-PPM","8-PPM","16-PPM"],"range":["M-1,-1L1,1M-1,1L1,-1","square","triangle-up","circle","M-1,0L1,0M0,-1L0,1"]},"legend":null},
"size":{"field":"s","type":"nominal","scale":{"domain":["OOK","2-PPM","4-PPM","8-PPM","16-PPM"],"range":[80,55,50,50,70]},"legend":null}}},
{"data":{"name":"aLab"},"mark":{"type":"text","align":"left","baseline":"middle","fontSize":21},"encoding":{"text":{"field":"t"}}},
{"data":{"values":[{"x":0.0154,"x2":0.0739,"y":12.83,"y2":14.53}]},"mark":{"type":"rect","fill":"white","stroke":"black","strokeWidth":1},"encoding":{"x2":{"field":"x2"},"y2":{"field":"y2"}}},
{"data":{"values":[{"t":"Unequalized","x":0.0336,"y":13.66},{"t":"Irreducible BER","x":0.0878,"y":17.74}]},"mark":{"type":"text","align":"center","baseline":"middle","fontSize":21},"encoding":{"text":{"field":"t"}}},
{"data":{"values":[{"x":0.0366,"x2":0.285,"y":-10.42}]},"mark":{"type":"rule","stroke":"black","strokeWidth":1.2,"clip":false},"encoding":{"x2":{"field":"x2"}}},
{"data":{"values":[{"t":"(a)","x":0.0583,"y":-12.15}]},"mark":{"type":"text","font":"Liberation Serif","fontSize":18,"baseline":"middle","clip":false},"encoding":{"text":{"field":"t"}}},
{"data":{"values":[{"x":0.01,"y":0}]},"mark":{"type":"point","opacity":0},
"encoding":{
"x":{"field":"x","type":"quantitative","scale":{"type":"log","domain":[0.01,1]},"axis":{"orient":"top","values":[0.01,0.02,0.03,0.04,0.05,0.06,0.07,0.08,0.09,0.1,0.2,0.3,0.4,0.5,0.6,0.7,0.8,0.9,1],"labels":false,"title":null}},
"y":{"field":"y","type":"quantitative","scale":{"domain":[-8,19.6]},"axis":{"orient":"right","values":[-8,-4,0,4,8,12],"labelExpr":"'' + (2*datum.value+14)","labelPadding":16,"title":"SNR to Achieve 10⁻⁶ BER (electrical dB)","titleAngle":270,"titleBaseline":"top","titlePadding":8}}}}
],
"resolve":{"axis":{"x":"independent","y":"independent"}}
},
{"spacing":87,"bounds":"flush","vconcat":[
{"width":360,"height":220,
"encoding":{"x":{"field":"x","type":"quantitative","scale":{"domain":[0,1]},"axis":null},"y":{"field":"y","type":"quantitative","scale":{"domain":[8.8,0]},"axis":null}},
"layer":[
{"data":{"values":[{"x":0.02,"x2":1,"y":0,"y2":8.8}]},"mark":{"type":"rect","fill":"white","stroke":"black","strokeWidth":1.2},"encoding":{"x2":{"field":"x2"},"y2":{"field":"y2"}}},
{"data":{"values":[{"t":"Measured Channels","x":0.044,"y":0.85}]},"mark":{"type":"text","align":"left","baseline":"middle","fontSize":18},"encoding":{"text":{"field":"t"}}},
{"data":{"name":"legSym"},"mark":{"type":"point","filled":false,"stroke":"black","strokeWidth":1,"opacity":1},"encoding":{"shape":{"field":"s","type":"nominal","scale":{"domain":["OOK","2-PPM","4-PPM","8-PPM","16-PPM"],"range":["M-1,-1L1,1M-1,1L1,-1","square","triangle-up","circle","M-1,0L1,0M0,-1L0,1"]},"legend":null},"size":{"value":55}}},
{"data":{"name":"legSym"},"mark":{"type":"text","align":"left","baseline":"middle","fontSize":18,"dx":29},"encoding":{"text":{"field":"t"}}},
{"data":{"name":"legLine"},"mark":{"type":"rule","stroke":"black","strokeWidth":1},"encoding":{"x2":{"field":"x2"},"strokeDash":{"field":"k","type":"nominal","scale":{"domain":["ideal","model"],"range":[[5,5],[1,0]]},"legend":null}}},
{"data":{"name":"legLine"},"mark":{"type":"text","align":"left","baseline":"middle","fontSize":18,"dx":80},"encoding":{"text":{"field":"t"}}}
]},
{
"width":427,"height":424,
"encoding":{"x":{"field":"x","type":"quantitative","scale":{"type":"log","domain":[0.01,1]},"axis":null},"y":{"field":"y","type":"quantitative","scale":{"domain":[-8,8]},"axis":null}},
"layer":[
{"data":{"name":"bIdeal"},"mark":{"type":"rule","stroke":"black","strokeWidth":1.2,"strokeDash":[7,5]},"encoding":{"x2":{"field":"x2"}}},
{"data":{"name":"bCurve"},"mark":{"type":"line","stroke":"black","strokeWidth":1.2,"clip":true},"encoding":{"detail":{"field":"s"}}},
{"data":{"name":"bPts"},"mark":{"type":"point","filled":false,"stroke":"black","strokeWidth":1.15,"opacity":1,"clip":true},
"encoding":{
"x":{"field":"x","type":"quantitative","scale":{"type":"log","domain":[0.01,1]},"axis":{"orient":"bottom","values":[0.01,0.02,0.03,0.04,0.05,0.06,0.07,0.08,0.09,0.1,0.2,0.3,0.4,0.5,0.6,0.7,0.8,0.9,1],"labelExpr":"datum.value == 0.01 ? '0.01' : datum.value == 0.1 ? '0.1' : datum.value == 1 ? '1.0' : ''","labelFlush":false,"labelOverlap":false,"labelPadding":14,"title":["R.M.S. Delay Spread","Bit Duration"],"titleLineHeight":26,"titlePadding":14}},
"y":{"field":"y","type":"quantitative","scale":{"domain":[-8,8]},"axis":{"orient":"left","values":[-8,-6,-4,-2,0,2,4,6,8],"labelExpr":"'' + datum.value","labelPadding":19,"title":"Normalized Power to Achieve 10⁻⁶ BER (optical dB)","titlePadding":6}},
"shape":{"field":"s","type":"nominal","scale":{"domain":["OOK","2-PPM","4-PPM","8-PPM","16-PPM"],"range":["M-1,-1L1,1M-1,1L1,-1","square","triangle-up","circle","M-1,0L1,0M0,-1L0,1"]},"legend":null},
"size":{"field":"s","type":"nominal","scale":{"domain":["OOK","2-PPM","4-PPM","8-PPM","16-PPM"],"range":[40,70,55,60,55]},"legend":null}}},
{"data":{"name":"bLab"},"mark":{"type":"text","align":"left","baseline":"middle","fontSize":21},"encoding":{"text":{"field":"t"}}},
{"data":{"values":[{"x":0.01573,"x2":0.0712,"y":4.83,"y2":6.45}]},"mark":{"type":"rect","fill":"white","stroke":"black","strokeWidth":1},"encoding":{"x2":{"field":"x2"},"y2":{"field":"y2"}}},
{"data":{"values":[{"t":"MLSD","x":0.0335,"y":5.66}]},"mark":{"type":"text","align":"center","baseline":"middle","fontSize":21},"encoding":{"text":{"field":"t"}}},
{"data":{"values":[{"x":0.0353,"x2":0.277,"y":-10.57}]},"mark":{"type":"rule","stroke":"black","strokeWidth":1.2,"clip":false},"encoding":{"x2":{"field":"x2"}}},
{"data":{"values":[{"t":"(b)","x":0.1783,"y":-12.23}]},"mark":{"type":"text","font":"Liberation Serif","fontSize":18,"baseline":"middle","clip":false},"encoding":{"text":{"field":"t"}}},
{"data":{"values":[{"x":0.01,"y":0}]},"mark":{"type":"point","opacity":0},
"encoding":{
"x":{"field":"x","type":"quantitative","scale":{"type":"log","domain":[0.01,1]},"axis":{"orient":"top","values":[0.01,0.02,0.03,0.04,0.05,0.06,0.07,0.08,0.09,0.1,0.2,0.3,0.4,0.5,0.6,0.7,0.8,0.9,1],"labels":false,"title":null}},
"y":{"field":"y","type":"quantitative","scale":{"domain":[-8,8]},"axis":{"orient":"right","values":[-8,-6,-4,-2,0,2,4,6],"labelExpr":"'' + (2*datum.value+14)","labelPadding":16,"title":"SNR to Achieve 10⁻⁶ BER (electrical dB)","titleAngle":270,"titleBaseline":"top","titlePadding":8}}}}
],
"resolve":{"axis":{"x":"independent","y":"independent"}}
}
]}
],
"spacing":61
}
